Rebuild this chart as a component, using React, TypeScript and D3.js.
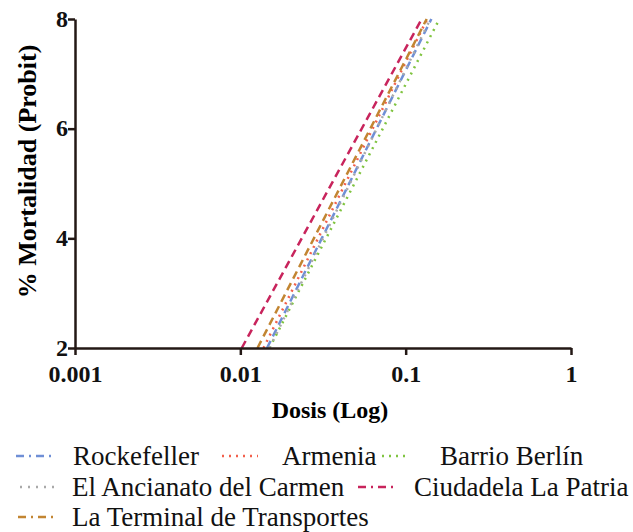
import React, { useRef, useEffect } from 'react';
import * as d3 from 'd3';

// probit lines: dose at which probit = 2 and dose at which probit = 8
const seriesNames = [
  'Rockefeller',
  'Armenia',
  'Barrio Berlín',
  'El Ancianato del Carmen',
  'Ciudadela La Patria',
  'La Terminal de Transportes',
];
const doseAtLow = [0.0145, 0.0138, 0.0150, 0.0150, 0.0102, 0.0127];
const doseAtHigh = [0.143, 0.135, 0.160, 0.141, 0.125, 0.134];
const probitRange = [2, 8];
const xTicks = [0.001, 0.01, 0.1, 1];
const yTicks = [2, 4, 6, 8];

const colors = ['#6f8fd6', '#f2604c', '#80c441', '#a9a9a9', '#c8245c', '#c28532'];
const dashes = ['8,5', '2,5', '2,5', '2,6', '8,5', '8,5'];
const legendDashes = ['8,5,2,5', '2,5', '2,5', '2,6', '8,5,2,5', '8,5,2,5'];

const App = () => {
  const ref = useRef<SVGSVGElement>(null);

  useEffect(() => {
    const width = 633;
    const height = 532;
    const svg = d3.select(ref.current);
    svg.selectAll('*').remove();
    svg.attr('width', width).attr('height', height);

    const x = d3.scaleLog().domain([0.001, 1]).range([75, 571]);
    const y = d3.scaleLinear().domain([2, 8]).range([348, 19]);
    const axisColor = '#231815';
    const font = '"Liberation Serif", "Times New Roman", serif';

    // lines
    seriesNames.forEach((name, i) => {
      const pts: [number, number][] = [
        [doseAtLow[i], probitRange[0]],
        [doseAtHigh[i], probitRange[1]],
      ];
      const line = d3.line<[number, number]>()
        .x(d => x(d[0]))
        .y(d => y(d[1]));
      svg.append('path')
        .attr('d', line(pts))
        .attr('fill', 'none')
        .attr('stroke', colors[i])
        .attr('stroke-width', 2.5)
        .attr('stroke-dasharray', dashes[i]);
    });

    const gx = svg.append('g')
      .attr('transform', `translate(0,${y(2)})`)
      .call(d3.axisBottom(x).tickValues(xTicks).tickSize(7).tickSizeOuter(0)
        .tickFormat(d => String(d)));
    const gy = svg.append('g')
      .attr('transform', `translate(${x(0.001)},0)`)
      .call(d3.axisLeft(y).tickValues(yTicks).tickSize(7).tickSizeOuter(0)
        .tickFormat(d => String(d)));

    [gx, gy].forEach(g => {
      g.select('.domain').attr('stroke', axisColor).attr('stroke-width', 2.5);
      g.selectAll('.tick line').attr('stroke', axisColor).attr('stroke-width', 2.5);
      g.selectAll('.tick text')
        .attr('fill', '#111')
        .style('font-family', font)
        .style('font-weight', 'bold')
        .style('font-size', '24px');
    });
    gx.selectAll('.tick text').attr('y', 16).attr('dy', '0.75em');
    gy.selectAll('.tick text').attr('x', -7).attr('dy', '0.3em');

    svg.append('text')
      .attr('x', 330)
      .attr('y', 418)
      .attr('text-anchor', 'middle')
      .style('font-family', font)
      .style('font-weight', 'bold')
      .style('font-size', '24px')
      .text('Dosis (Log)');

    svg.append('text')
      .attr('transform', `translate(36,${(y(2) + y(8)) / 2 - 12}) rotate(-90)`)
      .attr('text-anchor', 'middle')
      .style('font-family', font)
      .style('font-weight', 'bold')
      .style('font-size', '26px')
      .text('% Mortalidad (Probit)');

    // legend
    const rows = [[0, 1, 2], [3, 4], [5]];
    const rowY = [456, 487, 517];
    const symbolX = [[16, 222, 382], [20, 358], [18]];
    const symbolW = [[36, 36, 28], [36, 36], [36]];
    const labelX = [[73, 282, 440], [72, 414], [72]];
    rows.forEach((row, r) => {
      row.forEach((idx, k) => {
        svg.append('line')
          .attr('x1', symbolX[r][k])
          .attr('x2', symbolX[r][k] + symbolW[r][k])
          .attr('y1', rowY[r])
          .attr('y2', rowY[r])
          .attr('stroke', colors[idx])
          .attr('stroke-width', 2.5)
          .attr('stroke-dasharray', legendDashes[idx]);
        svg.append('text')
          .attr('x', labelX[r][k])
          .attr('y', rowY[r] + 9)
          .style('font-family', font)
          .style('font-size', '27px')
          .attr('fill', '#111')
          .text(seriesNames[idx]);
      });
    });
  }, []);

  return <svg ref={ref} style={{ display: 'block', position: 'absolute', left: 0, top: 0 }}></svg>;
};

export default App;
